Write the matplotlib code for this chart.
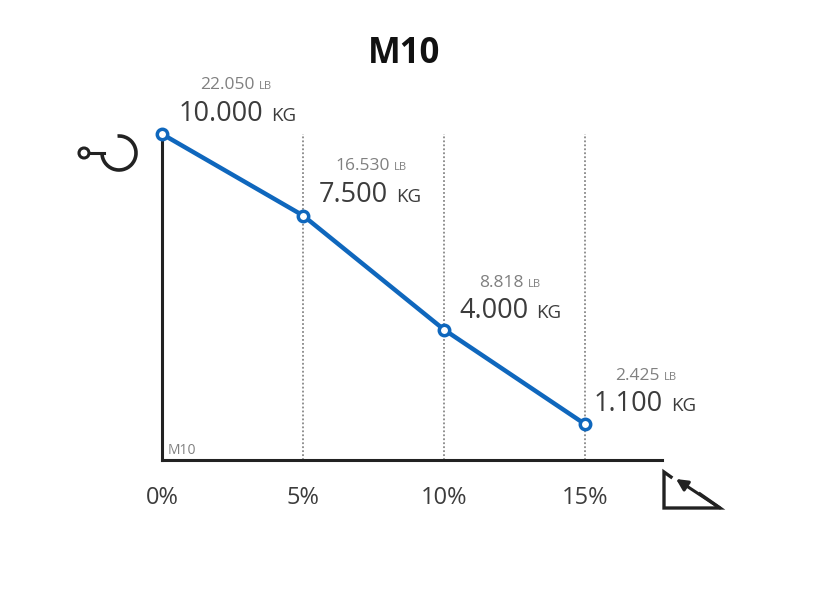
# M10 load chart: capacity vs. slope

import matplotlib
matplotlib.use("Agg")
import matplotlib.pyplot as plt
from matplotlib.patches import Arc, Circle

plt.rcParams["font.family"] = ["Open Sans", "DejaVu Sans"]

# the data
slope = [0, 5, 10, 15]
slope_labels = ["0%", "5%", "10%", "15%"]
load_kg = [10000, 7500, 4000, 1100]
kg_labels = ["10.000", "7.500", "4.000", "1.100"]
lb_labels = ["22.050", "16.530", "8.818", "2.425"]

# label offsets from each point, in pixels
kg_dx = [101, 85, 84, 78]
lb_dx = [93, 87, 80, 75]
kg_dy = [13, 13, 12, 13]
lb_dy = [45, 46, 43, 44]

blue = "#0f67bd"
dark = "#222222"
text_col = "#3c3c3c"
grey = "#808080"

fig = plt.figure(figsize=(8.31, 5.9), dpi=100)
ax = fig.add_axes([162 / 831, 130 / 590, 500 / 831, 326 / 590])
ax.set_xlim(0, 15 * 500 / 423)
ax.set_ylim(0, 10000)
ax.patch.set_alpha(0)

ax.spines["top"].set_visible(False)
ax.spines["right"].set_visible(False)
ax.spines["left"].set_linewidth(2.2)
ax.spines["bottom"].set_linewidth(2.2)
ax.spines["left"].set_color(dark)
ax.spines["bottom"].set_color(dark)

ax.set_xticks(slope)
ax.set_xticklabels(slope_labels, fontsize=17, color=text_col)
ax.set_yticks([])
ax.tick_params(axis="x", length=0, pad=18.5)

# dotted guides
for x in slope[1:]:
    ax.plot([x, x], [0, 10000], color="#888888", lw=1.3, ls=(0, (1, 1.2)), zorder=1)

ax.plot(slope, load_kg, color=blue, lw=3.2, marker="o", ms=7.5, mfc="white",
        mec=blue, mew=2.5, clip_on=False, zorder=3)

# value labels
for i in range(len(slope)):
    xy = (slope[i], load_kg[i])
    ax.annotate(kg_labels[i], xy, xytext=(kg_dx[i], kg_dy[i]), textcoords="offset pixels",
                ha="right", va="baseline", fontsize=19.5, color=text_col)
    ax.annotate("KG", xy, xytext=(kg_dx[i] + 8, kg_dy[i]), textcoords="offset pixels",
                ha="left", va="baseline", fontsize=13.5, color=text_col)
    ax.annotate(lb_labels[i], xy, xytext=(lb_dx[i], lb_dy[i]), textcoords="offset pixels",
                ha="right", va="baseline", fontsize=12.5, color=grey)
    ax.annotate("LB", xy, xytext=(lb_dx[i] + 4, lb_dy[i]), textcoords="offset pixels",
                ha="left", va="baseline", fontsize=8, color=grey)

ax.annotate("M10", (0, 0), xytext=(6, 6), textcoords="offset pixels",
            ha="left", va="baseline", fontsize=10, color=grey)

fig.text(404 / 831, 1 - 54 / 590, "M10", ha="center", va="center",
         fontsize=25, fontweight="bold", color="#111111")

# icons, drawn in pixel coordinates of the figure
deco = fig.add_axes([0, 0, 1, 1])
deco.set_xlim(0, 831)
deco.set_ylim(590, 0)
deco.axis("off")
deco.patch.set_alpha(0)

# hook
deco.add_patch(Circle((84, 153), 5, fill=False, ec=dark, lw=2.2))
deco.plot([89, 104], [153, 153], color=dark, lw=2.2)
deco.add_patch(Arc((119, 153), 34, 34, theta1=-95, theta2=180, ec=dark, lw=2.6))

# slope triangle
deco.plot([671, 664, 664, 720, 700], [477, 472, 508, 508, 494], color=dark, lw=2.4,
          solid_joinstyle="miter")
deco.annotate("", xy=(676, 479), xytext=(720, 508),
              arrowprops=dict(arrowstyle="-|>", color=dark, lw=2.2, mutation_scale=17,
                              shrinkA=0, shrinkB=0))

fig.savefig("out.png", dpi=100, facecolor="white")
